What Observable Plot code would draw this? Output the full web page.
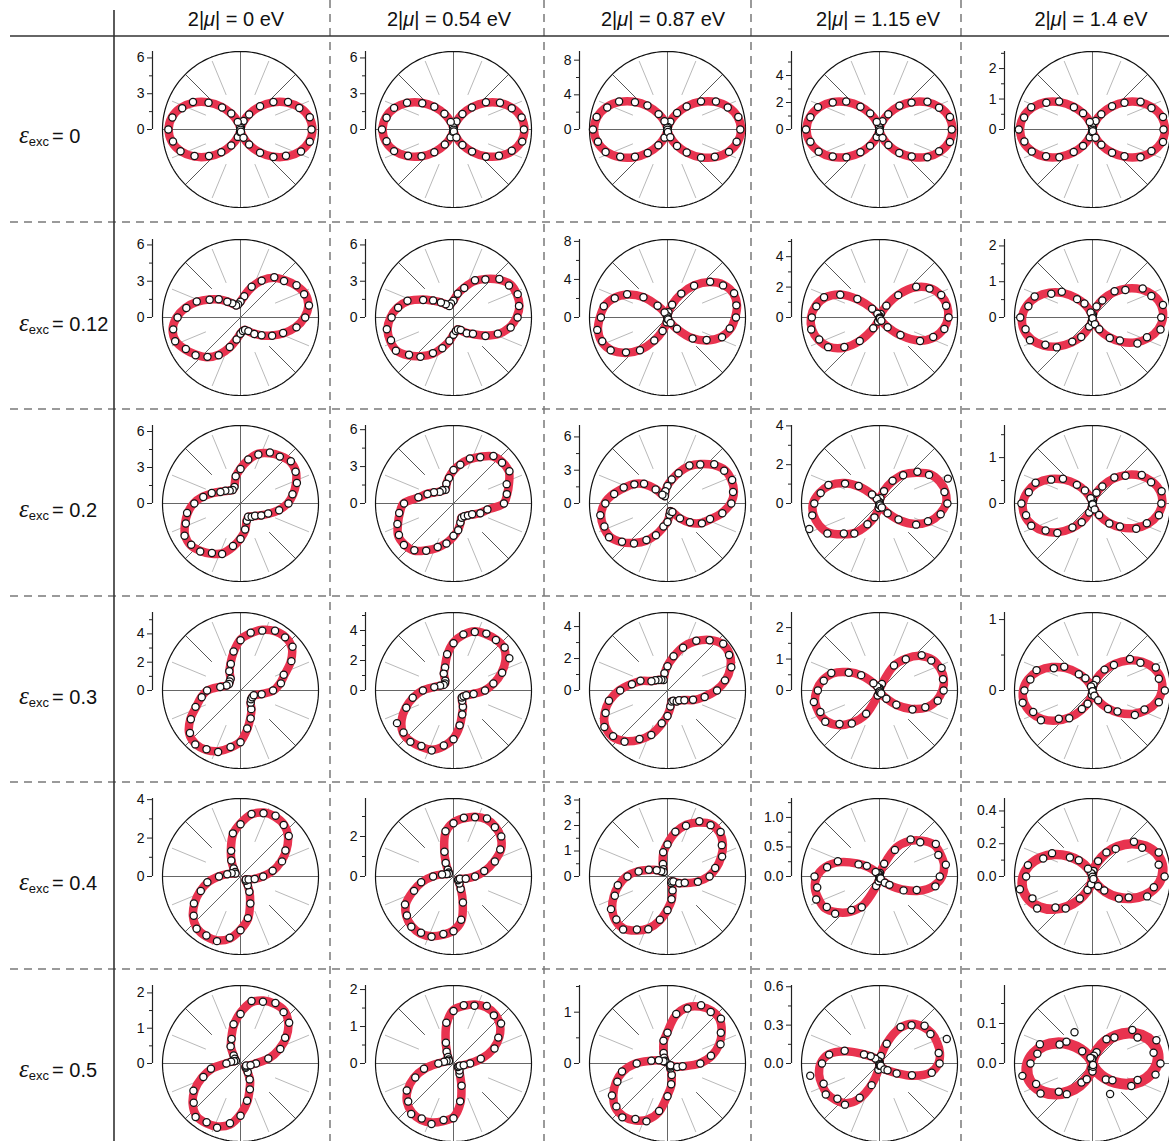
<!DOCTYPE html>
<html>
<head>
<meta charset="utf-8">
<script src="https://cdn.jsdelivr.net/npm/d3@7"></script>
<script src="https://cdn.jsdelivr.net/npm/@observablehq/plot@0.6"></script>
<style>
  body { margin: 0; background: #fff; }
  #fig { position: relative; width: 1169px; height: 1141px; overflow: hidden;
         font-family: "Liberation Sans", Arial, sans-serif; color: #111; }
  #frame { position: absolute; left: 0; top: 0; }
  .panel { position: absolute; }
  .hdr { position: absolute; top: 9px; font-size: 20px; line-height: 20px; transform: translateX(-50%); white-space: nowrap; }
  .hdr i { font-style: italic; }
  .rowlab { position: absolute; left: 19px; font-size: 20px; line-height: 20px; white-space: nowrap; }
  .rowlab .eps { font-family: "Liberation Serif", "Times New Roman", serif; font-style: italic; font-size: 25px; }
  .rowlab sub { font-size: 13px; vertical-align: -3px; margin-right: 3px; }
</style>
</head>
<body>
<div id="fig"></div>
<script>
// Column and row parameters
const chemPot = ["0", "0.54", "0.87", "1.15", "1.4"];      // 2|mu| in eV
const strain = ["0", "0.12", "0.2", "0.3", "0.4", "0.5"];   // epsilon_exc

// Radial axis extent (value at the outer circle) and labelled tick step, per row / column
const radialMax = [
  [6.54, 6.54, 9.0, 5.78, 2.56],
  [6.45, 6.45, 8.2, 5.13, 2.18],
  [6.5, 6.34, 7.03, 4.02, 1.70],
  [5.51, 5.2, 4.88, 2.48, 1.10],
  [4.06, 3.9, 3.06, 1.32, 0.476],
  [2.21, 2.11, 1.52, 0.61, 0.195]
];
const tickStep = [
  [3, 3, 4, 2, 1],
  [3, 3, 4, 2, 1],
  [3, 3, 3, 2, 1],
  [2, 2, 2, 1, 1],
  [2, 2, 1, 0.5, 0.2],
  [1, 1, 1, 0.3, 0.1]
];

// Fitted SHG intensity at polarisation angles 0,10,...,170 deg (pattern repeats every 180 deg)
const fitRow0 = [
  [6.03,5.85,5.32,4.52,3.54,2.49,1.51,0.71,0.18,0,0.18,0.71,1.51,2.49,3.54,4.52,5.32,5.85],
  [5.95,5.77,5.25,4.46,3.49,2.46,1.49,0.70,0.18,0,0.18,0.70,1.49,2.46,3.49,4.46,5.25,5.77],
  [8.49,8.23,7.50,6.37,4.98,3.51,2.12,0.99,0.26,0,0.26,0.99,2.12,3.51,4.98,6.37,7.50,8.23],
  [5.41,5.25,4.78,4.06,3.17,2.24,1.35,0.63,0.16,0,0.16,0.63,1.35,2.24,3.17,4.06,4.78,5.25],
  [2.38,2.31,2.10,1.79,1.40,0.98,0.60,0.28,0.07,0,0.07,0.28,0.60,0.98,1.40,1.79,2.10,2.31]
];
const fitRow1 = [
  [5.29,5.70,5.70,5.29,4.79,4.30,3.55,2.64,1.82,1.32,1.12,1.07,1.32,1.74,2.31,2.98,3.80,4.63],
  [5.21,5.54,5.58,5.45,4.88,4.17,3.47,2.64,1.98,1.40,1.16,1.03,1.24,1.65,2.15,2.98,3.97,4.71],
  [7.11,7.42,7.37,6.84,5.79,4.42,2.84,1.47,0.53,0.16,0.11,0.21,0.63,1.58,3.37,4.84,6.00,6.74],
  [4.51,4.51,4.28,3.85,3.09,1.97,0.86,0.26,0.07,0.02,0.03,0.10,0.26,0.79,1.84,3.03,3.82,4.28],
  [1.97,1.95,1.81,1.57,1.26,0.92,0.59,0.30,0.10,0.01,0.03,0.17,0.41,0.71,1.06,1.39,1.67,1.87]
];
const fitRow2 = [
  [3.92,4.46,4.92,5.33,5.42,5.17,4.83,4.42,3.67,2.92,2.25,1.50,1.29,1.42,1.62,1.97,2.50,3.21],
  [4.07,4.43,4.80,5.20,5.20,5.00,4.39,3.82,3.25,2.68,2.15,1.67,1.30,1.38,1.50,1.79,2.28,2.85],
  [5.68,6.08,6.13,5.99,5.41,4.64,3.87,2.97,2.16,1.62,1.08,0.72,0.90,1.71,2.70,3.51,4.14,4.95],
  [3.43,3.45,3.30,3.02,2.47,1.96,1.29,0.72,0.26,0.08,0.05,0.10,0.26,0.62,1.34,2.11,2.73,3.14],
  [1.52,1.50,1.39,1.21,0.97,0.71,0.45,0.23,0.08,0.00,0.02,0.13,0.31,0.55,0.81,1.07,1.29,1.44]
];
const fitRow3 = [
  [2.33,2.83,3.32,4.10,4.73,4.93,4.84,4.56,4.10,3.60,2.76,2.05,1.55,1.10,0.99,0.95,1.02,1.48],
  [2.07,2.73,3.40,4.00,4.40,4.43,4.33,4.20,3.77,3.20,2.40,1.67,1.27,0.87,0.73,0.77,0.93,1.33],
  [3.03,3.69,4.19,4.50,4.50,4.13,3.56,2.91,2.13,1.56,1.06,0.72,0.75,0.88,0.97,1.19,1.75,2.31],
  [2.00,2.08,2.05,1.95,1.71,1.33,0.89,0.19,0.06,0.05,0.03,0.06,0.13,0.32,0.73,1.17,1.59,1.84],
  [0.98,0.98,0.92,0.81,0.66,0.49,0.32,0.18,0.07,0.01,0.01,0.07,0.18,0.32,0.49,0.66,0.81,0.92]
];
const fitRow4 = [
  [1.15,1.72,2.24,2.76,3.23,3.52,3.59,3.54,3.28,2.76,2.24,1.46,0.94,0.57,0.36,0.31,0.47,0.73],
  [1.05,1.60,2.15,2.75,3.08,3.25,3.30,3.18,2.95,2.70,2.25,1.35,0.75,0.45,0.30,0.28,0.35,0.60],
  [1.61,1.94,2.24,2.51,2.67,2.67,2.45,2.16,1.75,1.29,0.94,0.55,0.31,0.24,0.31,0.51,0.75,1.18],
  [1.06,1.11,1.10,1.07,0.94,0.78,0.56,0.20,0.07,0.03,0.02,0.03,0.05,0.12,0.25,0.44,0.71,0.93],
  [0.424,0.432,0.414,0.372,0.312,0.239,0.164,0.095,0.041,0.009,0.001,0.019,0.061,0.121,0.194,0.269,0.337,0.391]
];
const fitRow5 = [
  [0.42,0.82,1.16,1.50,1.77,1.94,1.95,1.90,1.76,1.44,1.10,0.76,0.54,0.31,0.20,0.16,0.18,0.28],
  [0.43,0.78,1.14,1.43,1.64,1.74,1.76,1.70,1.58,1.45,1.08,0.62,0.35,0.24,0.16,0.15,0.19,0.27],
  [0.62,0.88,1.07,1.22,1.33,1.34,1.28,1.17,0.96,0.62,0.43,0.23,0.12,0.07,0.06,0.08,0.19,0.31],
  [0.461,0.480,0.480,0.473,0.445,0.406,0.320,0.172,0.055,0.016,0.008,0.012,0.023,0.055,0.086,0.148,0.281,0.406],
  [0.162,0.165,0.158,0.142,0.119,0.091,0.063,0.036,0.016,0.003,0.000,0.007,0.023,0.046,0.074,0.103,0.129,0.149]
];

// Measured SHG intensity at angles 0,10,...,350 deg
const dataRow0 = [
  [5.95,5.9,5.25,4.6,3.6,2.55,1.45,0.75,0.2,0.05,0.15,0.68,1.55,2.4,3.5,4.6,5.2,5.8,
   6.05,5.75,5.35,4.45,3.45,2.5,1.55,0.66,0.22,0.02,0.2,0.74,1.45,2.55,3.6,4.4,5.4,5.9],
  [5.9,5.8,5.2,4.5,3.55,2.4,1.5,0.72,0.16,0.03,0.2,0.68,1.52,2.5,3.42,4.5,5.3,5.7,
   6.0,5.7,5.3,4.4,3.5,2.5,1.45,0.7,0.2,0.02,0.16,0.72,1.5,2.42,3.55,4.4,5.2,5.85],
  [8.4,8.3,7.4,6.45,5.05,3.45,2.2,0.95,0.3,0.05,0.22,1.02,2.05,3.6,4.9,6.45,7.4,8.3,
   8.6,8.15,7.6,6.3,4.9,3.55,2.1,1.0,0.24,0.04,0.28,0.95,2.2,3.45,5.05,6.3,7.55,8.1],
  [5.35,5.3,4.7,4.1,3.1,2.3,1.3,0.66,0.15,0.03,0.18,0.6,1.38,2.2,3.22,4.0,4.85,5.2,
   5.45,5.2,4.8,4.0,3.2,2.2,1.4,0.6,0.18,0.02,0.14,0.66,1.32,2.28,3.12,4.1,4.7,5.3],
  [2.33,2.35,2.06,1.82,1.37,1.0,0.58,0.3,0.06,0.02,0.08,0.26,0.62,0.95,1.43,1.75,2.14,2.28,
   2.42,2.27,2.12,1.76,1.42,0.96,0.62,0.27,0.08,0.01,0.06,0.29,0.58,1.0,1.37,1.82,2.06,2.35]
];
const dataRow1 = [
  [5.35,5.75,5.6,5.35,4.7,4.35,3.5,2.7,1.78,1.3,1.1,1.05,1.35,1.7,2.35,2.95,3.85,4.55,
   5.2,5.65,5.75,5.22,4.85,4.25,3.6,2.6,1.85,1.34,1.14,1.09,1.3,1.78,2.28,3.02,3.75,4.7],
  [5.3,5.5,5.65,5.3,4.95,4.1,3.55,2.6,2.0,1.38,1.18,1.0,1.27,1.62,2.2,2.9,4.05,4.65,
   5.12,5.6,5.5,5.5,4.8,4.25,3.4,2.7,1.95,1.42,1.14,1.05,1.2,1.7,2.1,3.05,3.9,4.8],
  [7.2,7.35,7.45,6.75,5.85,4.35,2.9,1.42,0.56,0.14,0.12,0.2,0.6,1.62,3.3,4.9,5.9,6.8,
   7.0,7.5,7.3,6.9,5.7,4.5,2.78,1.5,0.5,0.18,0.1,0.23,0.66,1.55,3.45,4.75,6.1,6.65],
  [4.55,4.45,4.32,3.8,3.15,1.92,0.9,0.24,0.08,0.03,0.02,0.11,0.28,0.75,1.9,2.98,3.88,4.22,
   4.45,4.56,4.22,3.9,3.02,2.02,0.82,0.28,0.06,0.01,0.04,0.09,0.24,0.83,1.8,3.08,3.76,4.33],
  [1.92,2.0,1.75,1.62,1.2,0.96,0.55,0.33,0.08,0.03,0.05,0.15,0.45,0.67,1.12,1.33,1.72,1.82,
   2.02,1.9,1.86,1.52,1.3,0.88,0.63,0.27,0.12,0.02,0.02,0.2,0.38,0.75,1.0,1.45,1.62,1.93]
];
const dataRow2 = [
  [4.0,4.4,5.0,5.3,5.48,5.1,4.9,4.35,3.72,2.88,2.3,1.46,1.3,1.4,1.65,1.93,2.55,3.15,
   3.85,4.52,4.85,5.38,5.36,5.22,4.76,4.48,3.6,2.96,2.2,1.54,1.27,1.45,1.58,2.0,2.45,3.27],
  [4.1,4.4,4.6,5.25,5.15,5.05,4.35,3.9,3.2,2.72,2.1,1.7,1.28,1.4,1.47,1.83,2.25,2.9,
   4.02,4.48,4.85,5.12,5.26,4.95,4.44,3.76,3.3,2.62,2.2,1.64,1.33,1.35,1.53,1.75,2.32,2.8],
  [5.75,6.0,6.2,5.9,5.5,4.6,3.95,2.9,2.2,1.58,1.12,0.7,0.92,1.66,2.76,3.45,4.2,4.88,
   5.6,6.15,6.05,6.08,5.35,4.7,3.8,3.05,2.1,1.66,1.04,0.75,0.88,1.75,2.64,3.58,4.08,5.02],
  [3.5,3.4,3.75,2.95,2.55,1.9,1.35,0.68,0.28,0.07,0.06,0.09,0.28,0.6,1.4,2.05,2.8,3.08,
   3.36,3.52,3.85,3.1,2.4,2.02,1.24,0.76,0.24,0.09,0.04,0.11,0.24,0.65,1.28,2.18,2.66,3.2],
  [1.5,1.53,1.36,1.24,0.94,0.74,0.43,0.25,0.07,0.01,0.03,0.12,0.33,0.53,0.84,1.04,1.32,1.41,
   1.55,1.47,1.42,1.18,1.0,0.68,0.47,0.21,0.09,0.01,0.02,0.14,0.29,0.57,0.78,1.1,1.26,1.47]
];
const dataRow3 = [
  [2.3,2.9,3.25,4.15,4.8,4.9,4.88,4.5,4.15,3.55,2.8,2.0,1.58,1.08,1.0,0.93,1.05,1.45,
   2.36,2.78,3.38,4.05,4.66,4.97,4.8,4.62,4.05,3.65,2.72,2.1,1.52,1.12,0.97,0.96,1.0,1.52],
  [2.1,2.7,3.45,4.3,4.45,4.4,4.38,4.15,3.8,3.15,2.45,1.64,1.3,0.85,0.74,0.75,0.95,1.3,
   2.04,2.76,3.35,4.35,4.35,4.47,4.28,4.25,3.72,3.25,2.36,1.7,1.25,0.9,0.72,0.78,0.91,1.36],
  [3.1,3.65,4.25,4.45,4.55,4.1,3.6,2.85,2.18,1.52,1.1,0.7,0.77,0.86,0.99,1.16,1.8,2.26,
   2.96,3.72,4.12,4.56,4.44,4.18,3.5,2.96,2.08,1.6,1.02,0.74,0.73,0.9,0.95,1.22,1.7,2.36],
  [2.04,2.05,2.1,1.9,1.75,1.3,0.92,0.22,0.07,0.04,0.04,0.05,0.15,0.3,0.76,1.13,1.63,1.8,
   1.96,2.12,2.0,1.99,1.66,1.37,0.85,0.17,0.05,0.05,0.02,0.07,0.11,0.34,0.7,1.21,1.55,1.88],
  [1.02,0.95,0.95,0.78,0.69,0.47,0.34,0.16,0.08,0.02,0.02,0.06,0.2,0.3,0.52,0.63,0.84,0.89,
   0.96,1.0,0.89,0.84,0.62,0.51,0.3,0.2,0.06,0.01,0.01,0.08,0.16,0.34,0.46,0.69,0.78,0.95]
];
const dataRow4 = [
  [1.18,1.7,2.3,2.7,3.28,3.5,3.65,3.5,3.3,2.72,2.28,1.42,0.96,0.55,0.37,0.3,0.49,0.7,
   1.12,1.75,2.2,2.8,3.18,3.55,3.55,3.58,3.24,2.8,2.2,1.5,0.92,0.59,0.35,0.32,0.45,0.75],
  [1.08,1.56,2.2,2.7,3.12,3.22,3.35,3.15,2.98,2.66,2.3,1.32,0.78,0.44,0.31,0.27,0.36,0.58,
   1.02,1.64,2.1,2.8,3.04,3.28,3.25,3.21,2.92,2.74,2.2,1.38,0.72,0.46,0.29,0.29,0.34,0.62],
  [1.65,1.9,2.28,2.46,2.72,2.63,2.5,2.12,1.78,1.26,0.97,0.52,0.33,0.23,0.32,0.49,0.78,1.15,
   1.57,1.98,2.2,2.56,2.62,2.71,2.4,2.2,1.72,1.32,0.91,0.58,0.29,0.25,0.3,0.53,0.72,1.21],
  [1.02,1.14,1.06,1.1,0.9,0.82,0.52,0.23,0.06,0.04,0.02,0.04,0.06,0.1,0.28,0.41,0.75,0.9,
   1.1,1.07,1.14,1.03,0.98,0.74,0.6,0.17,0.08,0.02,0.03,0.02,0.04,0.14,0.22,0.47,0.67,0.96],
  [0.44,0.41,0.43,0.35,0.33,0.22,0.17,0.1,0.035,0.012,0.004,0.022,0.055,0.13,0.18,0.285,0.32,0.4,
   0.405,0.45,0.39,0.39,0.295,0.255,0.155,0.088,0.048,0.006,0.002,0.016,0.068,0.112,0.21,0.255,0.355,0.38]
];
const dataRow5 = [
  [0.44,0.8,1.2,1.46,1.8,1.9,1.98,1.86,1.8,1.4,1.13,0.74,0.56,0.3,0.21,0.15,0.19,0.27,
   0.4,0.85,1.12,1.54,1.73,1.98,1.92,1.94,1.72,1.48,1.07,0.78,0.52,0.32,0.19,0.17,0.17,0.29],
  [0.45,0.75,1.18,1.4,1.68,1.7,1.8,1.66,1.6,1.42,1.12,0.6,0.37,0.23,0.17,0.14,0.2,0.26,
   0.41,0.81,1.1,1.46,1.6,1.78,1.72,1.74,1.55,1.48,1.04,0.64,0.33,0.25,0.15,0.16,0.18,0.28],
  [0.64,0.86,1.1,1.2,1.36,1.31,1.31,1.14,0.98,0.6,0.45,0.22,0.13,0.07,0.05,0.09,0.18,0.32,
   0.6,0.9,1.04,1.25,1.3,1.37,1.25,1.2,0.94,0.64,0.41,0.24,0.11,0.08,0.06,0.07,0.2,0.3],
  [0.47,0.47,0.56,0.46,0.46,0.39,0.33,0.165,0.06,0.014,0.01,0.01,0.026,0.05,0.09,0.14,0.29,0.4,
   0.45,0.55,0.465,0.485,0.43,0.42,0.31,0.18,0.05,0.018,0.006,0.014,0.02,0.06,0.082,0.155,0.27,0.415],
  [0.17,0.155,0.17,0.13,0.13,0.085,0.07,0.03,0.02,0.012,0.01,0.015,0.09,0.04,0.085,0.095,0.14,0.14,
   0.155,0.178,0.15,0.15,0.11,0.1,0.055,0.042,0.012,0.02,0.008,0.004,0.088,0.052,0.065,0.112,0.12,0.16]
];

const fits = [fitRow0, fitRow1, fitRow2, fitRow3, fitRow4, fitRow5];
const points = [dataRow0, dataRow1, dataRow2, dataRow3, dataRow4, dataRow5];

// Page layout: panel centres in the 1169 x 1141 figure
const colX = [240, 453, 666.5, 879, 1092];
const rowY = [129.3, 316.7, 503, 689.7, 876, 1063.3];
const headX = [236, 449, 663, 878, 1091];

const R = 78;            // outer circle radius, px
const AX = 10;           // gap between circle and radial axis, px
const ML = 40;           // room for tick labels
const rad = Math.PI / 180;
const polar = (r, a) => ({x: r * Math.cos(a * rad), y: r * Math.sin(a * rad)});

const fig = document.getElementById("fig");

// Separator lines of the table
const ns = "http://www.w3.org/2000/svg";
const frame = document.createElementNS(ns, "svg");
frame.setAttribute("id", "frame");
frame.setAttribute("width", 1169);
frame.setAttribute("height", 1141);
function seg(x1, y1, x2, y2, stroke, w, dash) {
  const l = document.createElementNS(ns, "line");
  l.setAttribute("x1", x1); l.setAttribute("y1", y1);
  l.setAttribute("x2", x2); l.setAttribute("y2", y2);
  l.setAttribute("stroke", stroke); l.setAttribute("stroke-width", w);
  if (dash) l.setAttribute("stroke-dasharray", dash);
  frame.appendChild(l);
}
[330, 544, 751, 961].forEach(x => seg(x, 0, x, 1141, "#7a7a7a", 1.5, "8 6"));
[222, 409, 596, 782, 969].forEach(y => seg(10, y, 1169, y, "#7a7a7a", 1.5, "8 6"));
seg(10, 36, 1169, 36, "#333", 1.6);
seg(114, 10, 114, 1141, "#333", 1.6);
fig.appendChild(frame);

// Column headers
chemPot.forEach((v, j) => {
  const d = document.createElement("div");
  d.className = "hdr";
  d.style.left = headX[j] + "px";
  d.innerHTML = `2|<i>\u03bc</i>| = ${v} eV`;
  fig.appendChild(d);
});

// Row labels
strain.forEach((v, i) => {
  const d = document.createElement("div");
  d.className = "rowlab";
  d.style.top = (rowY[i] - 4) + "px";
  d.innerHTML = `<span class="eps">\u03b5</span><sub>exc</sub>= ${v}`;
  fig.appendChild(d);
});

function panel(i, j) {
  const rmax = radialMax[i][j];
  const step = tickStep[i][j];
  const k = rmax / R;                         // data units per pixel
  const strained = +strain[i] > 0;
  const fit = fits[i][j];
  const obs = points[i][j];

  const ring = d3.range(0, 361, 2).map(a => polar(rmax, a));
  const darkAngles = strained ? [135, 315] : [45, 135, 225, 315];
  const dark = darkAngles.map(a => ({a0: polar(0.52 * rmax, a), a1: polar(rmax, a)}));
  const light = d3.range(22.5, 360, 45).map(a => ({a0: polar(0.48 * rmax, a), a1: polar(0.95 * rmax, a)}));
  const diam = [
    {a0: polar(rmax, 180), a1: polar(rmax, 0)},
    {a0: polar(rmax, 270), a1: polar(rmax, 90)}
  ];
  if (strained) diam.push({a0: polar(rmax, 225), a1: polar(rmax, 45)});

  const fitPts = d3.range(36).map(n => polar(fit[n % 18], n * 10));
  const obsPts = obs.map((r, n) => polar(r, n * 10));

  const eps = 1e-9;
  const major = d3.range(0, rmax + eps, step);
  const minor = d3.range(step / 2, rmax + eps, step);
  const fmt = step < 1 ? d3.format(".1f") : d3.format("d");
  const xmin = -rmax - AX * k;
  const bandW = (i === 5 && j === 4) ? 11 : (i === 4 && j === 4) ? 9.5 : 8.5;

  const svg = Plot.plot({
    width: ML + (R + AX) + (R + 2),
    height: 2 * (R + 2) + 8,
    marginLeft: ML, marginRight: 0, marginTop: 4, marginBottom: 4,
    x: {domain: [xmin, rmax + 2 * k], axis: null},
    y: {domain: [-rmax - 2 * k, rmax + 2 * k], axis: null},
    style: {background: "transparent", fontFamily: "Liberation Sans, Arial, sans-serif", fontSize: "14px", color: "#111", overflow: "visible"},
    marks: [
      Plot.link(light, {x1: d => d.a0.x, y1: d => d.a0.y, x2: d => d.a1.x, y2: d => d.a1.y, stroke: "#b9b9b9", strokeWidth: 1}),
      Plot.link(dark, {x1: d => d.a0.x, y1: d => d.a0.y, x2: d => d.a1.x, y2: d => d.a1.y, stroke: "#555", strokeWidth: 1}),
      Plot.link(diam, {x1: d => d.a0.x, y1: d => d.a0.y, x2: d => d.a1.x, y2: d => d.a1.y, stroke: "#666", strokeWidth: 1}),
      Plot.line(ring, {x: "x", y: "y", stroke: "#111", strokeWidth: 1.2}),
      Plot.line(fitPts, {x: "x", y: "y", curve: "catmull-rom-closed", stroke: "#e8334f", strokeWidth: bandW, strokeLinejoin: "round"}),
      Plot.dot(obsPts, {x: "x", y: "y", r: 3.6, fill: "white", stroke: "#111", strokeWidth: 1.25}),
      Plot.ruleX([xmin], {y1: 0, y2: rmax, stroke: "#222", strokeWidth: 1.2}),
      Plot.axisY({ticks: major, anchor: "left", tickSize: 5, tickPadding: 3, tickFormat: fmt, label: null, stroke: "#222", fontSize: 14}),
      Plot.axisY({ticks: minor, anchor: "left", tickSize: 3, tickFormat: () => "", label: null, stroke: "#222"})
    ]
  });
  svg.classList.add("panel");
  svg.style.position = "absolute";
  svg.style.left = (colX[j] - R - AX - ML) + "px";
  svg.style.top = (rowY[i] - R - 2 - 4) + "px";
  fig.appendChild(svg);
}

for (let i = 0; i < strain.length; i++)
  for (let j = 0; j < chemPot.length; j++) panel(i, j);
</script>
</body>
</html>
